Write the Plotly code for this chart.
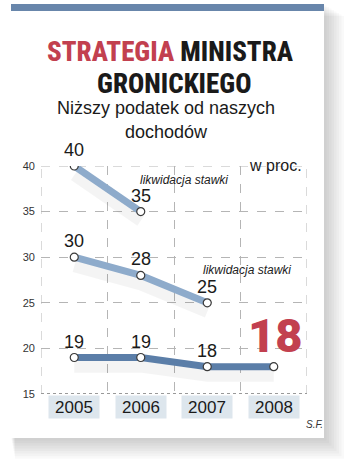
import plotly.graph_objects as go

# --- data -------------------------------------------------------------
years = ["2005", "2006", "2007", "2008"]
rate_high = [40, 35, None, None]     # 40% bracket, abolished after 2006
rate_mid = [30, 28, 25, None]        # 30% bracket, abolished after 2007
rate_low = [19, 19, 18, 18]          # lowest bracket
y_ticks = [15, 20, 25, 30, 35, 40]

W, H = 350, 469
ML, MR, MT, MB = 41, 43, 166, 75
PW, PH = W - ML - MR, H - MT - MB

COND = "Roboto Condensed, Liberation Sans, Arial, sans-serif"
SANS = "Liberation Sans, Arial, Helvetica, sans-serif"
LIGHT_BLUE = "#8eabcb"
DARK_BLUE = "#5b7ea8"
RED = "#c2404f"
INK = "#1a1a1a"

xs = list(range(len(years)))
bounds = [i - 0.5 for i in range(len(years) + 1)]


def px(x):
    return (x - ML) / PW


def py(y):
    return (H - MB - y) / PH


fig = go.Figure()

# soft drop shadow under each line
for series in (rate_high, rate_mid, rate_low):
    fig.add_trace(go.Scatter(
        x=xs, y=[v - 1.0 if v is not None else None for v in series],
        mode="lines", line=dict(color="rgba(0,0,0,0.045)", width=12),
        hoverinfo="skip", showlegend=False))

for series, color in [(rate_high, LIGHT_BLUE), (rate_mid, LIGHT_BLUE), (rate_low, DARK_BLUE)]:
    fig.add_trace(go.Scatter(
        x=xs, y=series, mode="lines+markers",
        line=dict(color=color, width=7),
        marker=dict(size=8, color="white", line=dict(color="#3a3a3a", width=1.2)),
        showlegend=False))

annotations = []

# value labels above points
for series in (rate_high, rate_mid, rate_low):
    for i, v in enumerate(series):
        if v is None:
            continue
        if series is rate_low and i == len(series) - 1:
            continue
        annotations.append(dict(
            x=xs[i], y=v, text=str(v), showarrow=False, yshift=16,
            font=dict(family=SANS, size=18, color=INK)))

# highlighted final rate
annotations.append(dict(
    x=xs[-1], y=rate_low[-1], text=str(rate_low[-1]), showarrow=False,
    yshift=31, xshift=1,
    font=dict(family="Roboto, Liberation Sans, Arial, sans-serif", size=47, color=RED, weight=900)))

# bracket abolition notes
annotations.append(dict(
    x=xs[1], y=38.5, text="<i>likwidacja stawki</i>", showarrow=False,
    xanchor="left", xshift=-3, font=dict(family=SANS, size=12, color="#222")))
annotations.append(dict(
    x=xs[2], y=28.65, text="<i>likwidacja stawki</i>", showarrow=False,
    xanchor="left", xshift=-6, font=dict(family=SANS, size=12, color="#222")))

# year labels on shaded boxes
for i, yr in enumerate(years):
    annotations.append(dict(
        x=xs[i], xref="x", y=py(407), yref="paper", text=yr, showarrow=False,
        bgcolor="#dde6ed", width=48, height=20, yanchor="middle",
        font=dict(family=SANS, size=17, color=INK)))

# title block
annotations += [
    dict(x=px(170), y=py(37), xref="paper", yref="paper", showarrow=False,
         text=f"<span style='color:{RED}'>STRATEGIA</span> MINISTRA", height=26,
         font=dict(family=COND, size=27, color=INK, weight=800)),
    dict(x=px(174), y=py(69), xref="paper", yref="paper", showarrow=False,
         text="GRONICKIEGO", height=26,
         font=dict(family=COND, size=27, color=INK, weight=800)),
    dict(x=px(166), y=py(96), xref="paper", yref="paper", showarrow=False,
         text="Niższy podatek od naszych", height=20,
         font=dict(family=SANS, size=18, color=INK)),
    dict(x=px(166), y=py(120), xref="paper", yref="paper", showarrow=False,
         text="dochodów", height=20,
         font=dict(family=SANS, size=18, color=INK)),
    dict(x=px(304), y=py(155), xref="paper", yref="paper", showarrow=False,
         xanchor="right", text="w proc.",
         font=dict(family=SANS, size=16, color=INK)),
    dict(x=px(325), y=py(432), xref="paper", yref="paper", showarrow=False,
         xanchor="right", text="<i>S.F.</i>",
         font=dict(family=SANS, size=10, color="#333")),
]

shapes = []
# card shadow
for k in range(1, 9):
    shapes.append(dict(type="rect", xref="paper", yref="paper", layer="below",
                       x0=px(11 + k * 0.5), x1=px(324 + k * 2.5),
                       y0=py(4 + k * 1.5), y1=py(438 + k * 2.6),
                       fillcolor="rgba(0,0,0,0.022)", line=dict(width=0)))
# card
shapes.append(dict(type="rect", xref="paper", yref="paper", layer="below",
                   x0=px(11), x1=px(324), y0=py(4), y1=py(438),
                   fillcolor="white", line=dict(width=0)))
# top band
shapes.append(dict(type="rect", xref="paper", yref="paper", layer="below",
                   x0=px(11), x1=px(324), y0=py(4), y1=py(11),
                   fillcolor="#6886ab", line=dict(width=0)))
# frame edges of the grid
for xb in (bounds[0], bounds[-1]):
    shapes.append(dict(type="line", xref="x", yref="paper", layer="below",
                       x0=xb, x1=xb, y0=0, y1=1,
                       line=dict(color="#b5b5b5", width=1, dash="dash")))
shapes.append(dict(type="line", xref="paper", yref="y", layer="below",
                   x0=0, x1=1, y0=y_ticks[-1], y1=y_ticks[-1],
                   line=dict(color="#b5b5b5", width=1, dash="dash")))
# baseline
shapes.append(dict(type="line", xref="paper", yref="y", layer="below",
                   x0=0, x1=1, y0=y_ticks[0], y1=y_ticks[0],
                   line=dict(color="#999", width=2, dash="dot")))

fig.update_layout(
    width=W, height=H,
    margin=dict(l=ML, r=MR, t=MT, b=MB),
    paper_bgcolor="white", plot_bgcolor="rgba(0,0,0,0)",
    showlegend=False,
    annotations=annotations, shapes=shapes,
    xaxis=dict(range=[bounds[0], bounds[-1]], tickvals=bounds,
               showticklabels=False, ticks="", showgrid=True,
               gridcolor="#b5b5b5", griddash="dash", gridwidth=1,
               zeroline=False, showline=False, fixedrange=True),
    yaxis=dict(range=[y_ticks[0], y_ticks[-1]], tickvals=y_ticks,
               showgrid=True, gridcolor="#b5b5b5", griddash="dash", gridwidth=1,
               zeroline=False, showline=False, ticks="", ticklabelstandoff=5,
               tickfont=dict(family=SANS, size=11, color="#333"),
               fixedrange=True),
)

fig.write_html("out.html")
